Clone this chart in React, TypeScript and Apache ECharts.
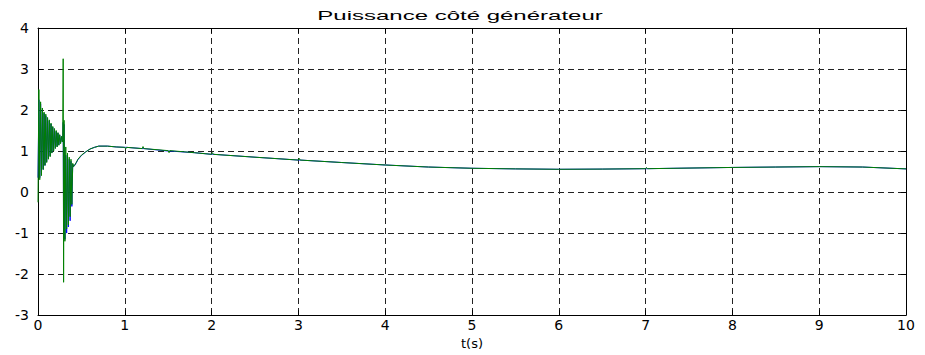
import React, { useEffect, useRef } from "react";
import * as echarts from "echarts";

const titleText = "Puissance côté générateur";
const xAxisName = "t(s)";
const xTicks = [0, 1, 2, 3, 4, 5, 6, 7, 8, 9, 10];
const yTicks = [-3, -2, -1, 0, 1, 2, 3, 4];

// transient part (s)
const transientTime = [
  0, 0.01, 0.02, 0.03, 0.04, 0.05, 0.06, 0.07, 0.08, 0.09, 0.1, 0.11, 0.12, 0.13, 0.14,
  0.15, 0.16, 0.17, 0.18, 0.19, 0.2, 0.21, 0.22, 0.23, 0.24, 0.25, 0.26, 0.27, 0.28,
  0.285, 0.29, 0.295, 0.3, 0.31, 0.32, 0.33, 0.34, 0.35, 0.36, 0.37, 0.38, 0.39, 0.4, 0.41,
];
const greenTransient = [
  -0.25, 2.5, 0.3, 2.2, 0.4, 2.05, 0.55, 1.95, 0.65, 1.9, 0.72, 1.82, 0.8, 1.76, 0.86,
  1.68, 0.95, 1.6, 1.0, 1.55, 1.06, 1.5, 1.1, 1.45, 1.14, 1.4, 1.18, 1.36, 1.22,
  1.28, 3.25, -2.2, 1.75, -1.2, 1.1, -0.9, 0.95, -0.8, 0.85, -0.6, 0.8, -0.3, 0.7, 0.62,
];
const blueTransient = [
  0.35, 2.25, 0.35, 2.15, 0.45, 2.0, 0.55, 1.92, 0.65, 1.86, 0.74, 1.8, 0.82, 1.74, 0.88,
  1.66, 0.96, 1.58, 1.02, 1.53, 1.07, 1.48, 1.11, 1.44, 1.15, 1.39, 1.19, 1.35, 1.23,
  1.28, 1.7, -1.2, 1.65, -1.15, 0.9, -1.0, 0.9, -0.85, 0.8, -0.7, 0.75, -0.35, 0.68, 0.62,
];

// slow trend part (s)
const trendTime = [
  0.42, 0.44, 0.46, 0.5, 0.55, 0.6, 0.65, 0.7, 0.8, 0.9, 1.0, 1.01, 1.02, 1.2, 1.21, 1.22,
  1.5, 1.51, 1.52, 1.8, 2.0, 2.01, 2.02, 2.5, 3.0, 3.01, 3.02, 3.5, 4.0, 4.5, 5.0, 5.5,
  6.0, 6.5, 7.0, 7.01, 7.02, 7.5, 8.0, 8.5, 9.0, 9.5, 10.0,
];
const greenTrend = [
  0.65, 0.72, 0.8, 0.9, 0.98, 1.05, 1.09, 1.12, 1.12, 1.1, 1.09, 1.05, 1.09, 1.06, 1.11, 1.06,
  1.01, 0.96, 1.01, 0.96, 0.92, 0.96, 0.92, 0.85, 0.78, 0.82, 0.78, 0.72, 0.66, 0.61, 0.58, 0.565,
  0.555, 0.56, 0.57, 0.6, 0.57, 0.585, 0.6, 0.61, 0.62, 0.61, 0.565,
];
const blueTrend = [
  0.64, 0.71, 0.79, 0.89, 0.98, 1.05, 1.09, 1.12, 1.12, 1.1, 1.09, 1.09, 1.09, 1.06, 1.06, 1.06,
  1.0, 1.0, 1.0, 0.96, 0.92, 0.92, 0.92, 0.85, 0.78, 0.78, 0.78, 0.72, 0.66, 0.61, 0.58, 0.565,
  0.555, 0.56, 0.57, 0.57, 0.57, 0.585, 0.6, 0.61, 0.62, 0.61, 0.565,
];

const allTime = [...transientTime, ...trendTime];
const greenData = [...greenTransient, ...greenTrend].map((v, i) => [allTime[i], v]);
const blueData = [...blueTransient, ...blueTrend].map((v, i) => [allTime[i], v]);

const FONT = '"DejaVu Sans", "Liberation Sans", sans-serif';

export default function App() {
  const ref = useRef<HTMLDivElement>(null);
  useEffect(() => {
    if (!ref.current) return;
    document.body.style.margin = "0";
    const chart = echarts.init(ref.current, null, { renderer: "svg" });
    const xMin = xTicks[0];
    const xMax = xTicks[xTicks.length - 1];
    const yMin = yTicks[0];
    const yMax = yTicks[yTicks.length - 1];
    const gridDash = { color: "#222", width: 1, type: [6, 4] as number[] };
    chart.setOption({
      animation: false,
      backgroundColor: "#fff",
      graphic: [
        {
          type: "text",
          x: 460,
          y: 16,
          scaleX: 2.0,
          style: {
            text: titleText,
            font: '12px "Liberation Sans", Arial, sans-serif',
            fill: "#000",
            textAlign: "center",
            textVerticalAlign: "middle",
          },
        },
      ],
      grid: { left: 38, right: 19, top: 28, bottom: 33, containLabel: false },
      xAxis: [
        {
          type: "value",
          min: xMin,
          max: xMax,
          interval: 1,
          name: xAxisName,
          nameLocation: "middle",
          nameGap: 17,
          nameTextStyle: { color: "#000", fontSize: 13, fontFamily: FONT },
          axisLine: { show: true, onZero: false, lineStyle: { color: "#000", width: 1 } },
          axisTick: { show: true, inside: true, length: 5, lineStyle: { color: "#000" } },
          axisLabel: { color: "#000", fontSize: 14, fontFamily: FONT, margin: 3 },
          splitLine: { show: true, lineStyle: gridDash },
        },
        {
          type: "value",
          position: "top",
          min: xMin,
          max: xMax,
          interval: 1,
          axisLine: { show: true, onZero: false, lineStyle: { color: "#000", width: 1 } },
          axisTick: { show: true, inside: true, length: 5, lineStyle: { color: "#000" } },
          axisLabel: { show: false },
          splitLine: { show: false },
        },
      ],
      yAxis: [
        {
          type: "value",
          min: yMin,
          max: yMax,
          interval: 1,
          axisLine: { show: true, onZero: false, lineStyle: { color: "#000", width: 1 } },
          axisTick: { show: true, inside: true, length: 5, lineStyle: { color: "#000" } },
          axisLabel: { color: "#000", fontSize: 14, fontFamily: FONT, margin: 9 },
          splitLine: { show: true, lineStyle: gridDash },
        },
        {
          type: "value",
          position: "right",
          min: yMin,
          max: yMax,
          interval: 1,
          axisLine: { show: true, onZero: false, lineStyle: { color: "#000", width: 1 } },
          axisTick: { show: true, inside: true, length: 5, lineStyle: { color: "#000" } },
          axisLabel: { show: false },
          splitLine: { show: false },
        },
      ],
      series: [
        {
          type: "line",
          name: "bleu",
          data: blueData,
          showSymbol: false,
          symbol: "none",
          lineStyle: { color: "#0000ff", width: 1 },
          xAxisIndex: 0,
          yAxisIndex: 0,
          z: 3,
        },
        {
          type: "line",
          name: "vert",
          data: greenData,
          showSymbol: false,
          symbol: "none",
          lineStyle: { color: "#008000", width: 1 },
          xAxisIndex: 0,
          yAxisIndex: 0,
          z: 4,
        },
      ],
    });
    return () => chart.dispose();
  }, []);
  return <div ref={ref} style={{ width: 925, height: 355 }} />;
}
